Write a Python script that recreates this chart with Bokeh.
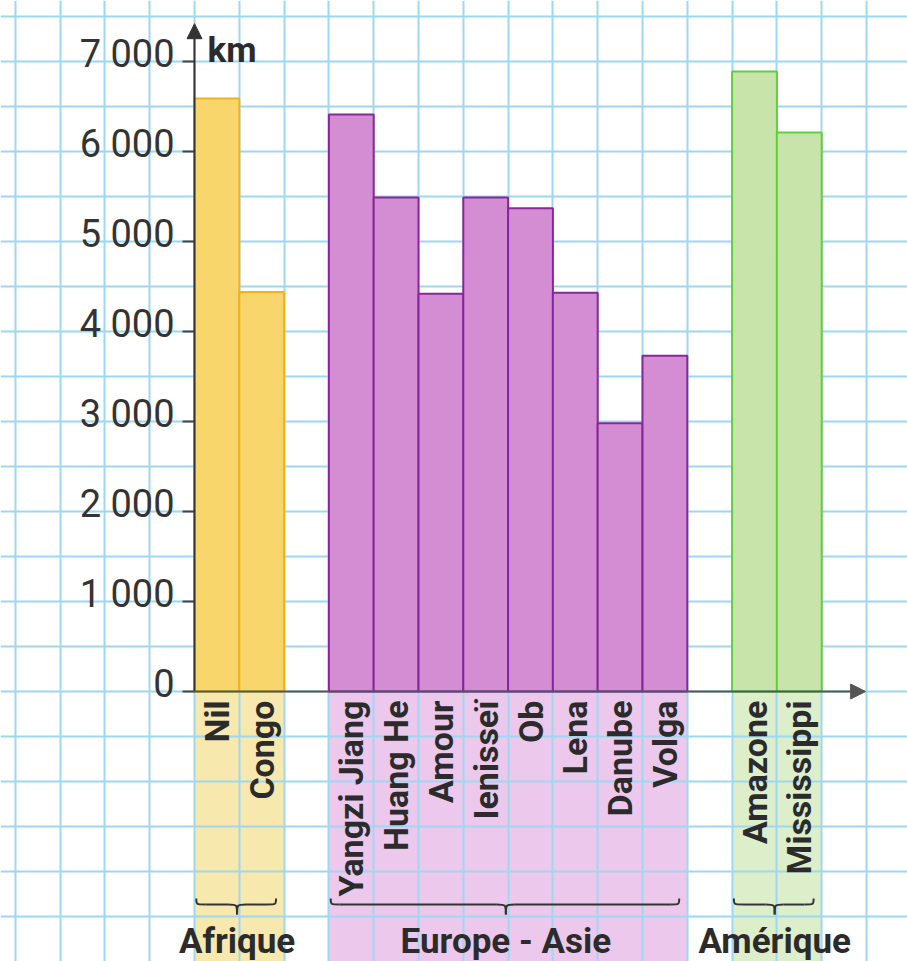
import math
from bokeh.plotting import figure
from bokeh.models import (LinearAxis, FixedTicker, SingleIntervalTicker, Grid, Arrow,
                          NormalHead, Label, Range1d, ColumnDataSource)
from bokeh.embed import file_html
from bokeh.resources import INLINE
from bokeh.core.properties import value

# ---------------- data ----------------
rivers = ["Nil", "Congo",
          "Yangzi Jiang", "Huang He", "Amour", "Ienisseï", "Ob", "Lena", "Danube", "Volga",
          "Amazone", "Mississippi"]
lengths_km = [6590, 4440,
              6410, 5490, 4420, 5490, 5370, 4430, 2980, 3730,
              6890, 6210]
continent_of = ["Afrique", "Afrique",
                "Europe - Asie", "Europe - Asie", "Europe - Asie", "Europe - Asie",
                "Europe - Asie", "Europe - Asie", "Europe - Asie", "Europe - Asie",
                "Amérique", "Amérique"]
groups = ["Afrique", "Europe - Asie", "Amérique"]
y_ticks = [0, 1000, 2000, 3000, 4000, 5000, 6000, 7000]
y_tick_labels = ["0", "1 000", "2 000", "3 000", "4 000", "5 000", "6 000", "7 000"]
y_unit = "km"

# ---------------- styles ----------------
fill_colors = {"Afrique": "#f8d66c", "Europe - Asie": "#d48cd2", "Amérique": "#c8e4aa"}
line_colors = {"Afrique": "#f2b21c", "Europe - Asie": "#86289a", "Amérique": "#5fcf3c"}
band_colors = {"Afrique": "#f7e8ae", "Europe - Asie": "#ecc9ec", "Amérique": "#ddeecb"}
TXT = "#2b2b2b"
FONT = "Roboto"

# slot layout: one slot per river, one empty slot between continents
lefts, g_start, g_end = [], {}, {}
pos = 0
prev = None
for r, c in zip(rivers, continent_of):
    if prev is not None and c != prev:
        pos += 1
    g_start.setdefault(c, pos)
    lefts.append(pos)
    g_end[c] = pos + 1
    prev = c
    pos += 1
rights = [l + 1 for l in lefts]
centers = [l + 0.5 for l in lefts]

PX_X = 44.8          # px per slot
PX_Y = 0.09          # px per km
W, H = 907, 961
x0 = -194 / PX_X
y1 = 691 / PX_Y

p = figure(width=W, height=H, output_backend="svg", toolbar_location=None,
           x_range=Range1d(x0, x0 + W / PX_X), y_range=Range1d(y1 - H / PX_Y, y1),
           x_axis_type=None, y_axis_type=None, min_border=0,
           outline_line_color=None, background_fill_color="white",
           border_fill_color="white")

y_bottom = y1 - H / PX_Y

# background bands below axis
p.quad(left=[g_start[g] for g in groups], right=[g_end[g] for g in groups],
       top=[0] * 3, bottom=[y_bottom - 100] * 3,
       fill_color=[band_colors[g] for g in groups], line_color=None, level="image")

# grid paper
p.add_layout(Grid(dimension=0, ticker=SingleIntervalTicker(interval=1),
                  grid_line_color="#9fd6f0", grid_line_width=2))
p.add_layout(Grid(dimension=1, ticker=SingleIntervalTicker(interval=500),
                  grid_line_color="#9fd6f0", grid_line_width=2))

# bars
src = ColumnDataSource(dict(
    left=lefts, right=rights, top=lengths_km, bottom=[0] * len(rivers),
    fill=[fill_colors[c] for c in continent_of], line=[line_colors[c] for c in continent_of]))
p.quad(left="left", right="right", top="top", bottom="bottom", source=src,
       fill_color="fill", line_color="line", line_width=2)

# axes arrows
p.add_layout(Arrow(end=NormalHead(size=15, fill_color="#333", line_color="#333"),
                   x_start=0, y_start=0, x_end=0, y_end=7420,
                   line_color="#333", line_width=2))
p.add_layout(Arrow(end=NormalHead(size=15, fill_color="#555", line_color="#555"),
                   x_start=-0.03, y_start=0, x_end=14.98, y_end=0,
                   line_color="#555", line_width=2))

# y tick marks
p.segment(x0=[0] * len(y_ticks), y0=y_ticks, x1=[-12 / PX_X] * len(y_ticks), y1=y_ticks,
          line_color="#444", line_width=2)
# y tick labels (sit slightly above their ticks)
lab_shift = 85
ylab_axis = LinearAxis(fixed_location=0,
                       ticker=FixedTicker(ticks=[t + lab_shift for t in y_ticks]),
                       major_label_overrides={t + lab_shift: s for t, s in zip(y_ticks, y_tick_labels)},
                       axis_line_color=None, major_tick_line_color=None, major_tick_out=0,
                       major_tick_in=0, minor_tick_line_color=None, major_label_standoff=20,
                       major_label_text_font=FONT, major_label_text_font_size="38px",
                       major_label_text_color="#333")
p.add_layout(ylab_axis, "left")

# category axis
xaxis = LinearAxis(fixed_location=0, ticker=FixedTicker(ticks=centers),
                   major_label_overrides={c: r for c, r in zip(centers, rivers)},
                   axis_line_color=None, major_tick_line_color=None, major_tick_out=0,
                   major_tick_in=0, minor_tick_line_color=None,
                   major_label_orientation=math.pi / 2,
                   major_label_standoff=9, major_label_text_font=FONT,
                   major_label_text_font_style="bold", major_label_text_font_size="34px",
                   major_label_text_color=TXT)
p.add_layout(xaxis, "below")

# unit label
p.add_layout(Label(x=0, y=7120, x_offset=13, text=y_unit, text_font=FONT,
                   text_font_style="bold", text_font_size="35px", text_color=TXT,
                   text_baseline="alphabetic"))

# braces
y_top, y_mid, y_tip = -2300, -2367, -2478
rx = 9 / PX_X
bz = dict(x0=[], y0=[], x1=[], y1=[], cx0=[], cy0=[], cx1=[], cy1=[])
sg = dict(x0=[], y0=[], x1=[], y1=[])
for g in groups:
    a, b = g_start[g] + 0.04, g_end[g] - 0.18
    c = (g_start[g] + g_end[g]) / 2 - 0.05
    for (sx, sy, ex, ey, cx, cy) in [(a, y_top, a + rx, y_mid, a, y_mid),
                                     (b, y_top, b - rx, y_mid, b, y_mid),
                                     (c - rx, y_mid, c, y_tip, c, y_mid),
                                     (c + rx, y_mid, c, y_tip, c, y_mid)]:
        bz["x0"].append(sx); bz["y0"].append(sy); bz["x1"].append(ex); bz["y1"].append(ey)
        bz["cx0"].append(cx); bz["cy0"].append(cy); bz["cx1"].append(cx); bz["cy1"].append(cy)
    for (sx, ex) in [(a + rx, c - rx), (c + rx, b - rx)]:
        sg["x0"].append(sx); sg["y0"].append(y_mid); sg["x1"].append(ex); sg["y1"].append(y_mid)
p.bezier(source=ColumnDataSource(bz), x0="x0", y0="y0", x1="x1", y1="y1",
         cx0="cx0", cy0="cy0", cx1="cx1", cy1="cy1", line_color="#333", line_width=2)
p.segment(source=ColumnDataSource(sg), x0="x0", y0="y0", x1="x1", y1="y1",
          line_color="#333", line_width=2)

# continent labels
p.text(x=[(g_start[g] + g_end[g]) / 2 - 0.05 for g in groups], y=[-2780] * 3, text=groups,
       text_font=value(FONT), text_font_style="bold", text_font_size="35px",
       text_color=TXT, text_align="center", text_baseline="alphabetic")

open("out.html", "w").write(file_html(p, INLINE))
